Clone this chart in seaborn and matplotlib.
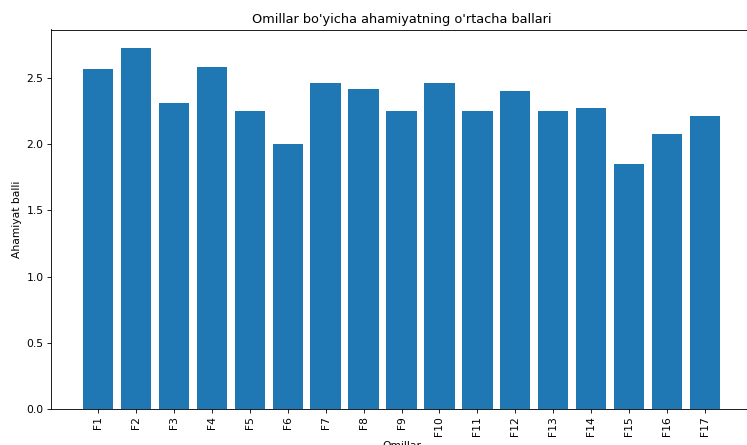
import matplotlib
matplotlib.use("Agg")
import matplotlib.pyplot as plt
import seaborn as sns
import pandas as pd

categories = ["F1", "F2", "F3", "F4", "F5", "F6", "F7", "F8", "F9", "F10",
              "F11", "F12", "F13", "F14", "F15", "F16", "F17"]
values = [2.57, 2.73, 2.31, 2.58, 2.25, 2.00, 2.46, 2.42, 2.25, 2.46,
          2.25, 2.40, 2.25, 2.27, 1.85, 2.08, 2.21]
title = "Omillar bo'yicha ahamiyatning o'rtacha ballari"
xlabel = "Omillar"
ylabel = "Ahamiyat balli"

df = pd.DataFrame({"cat": categories, "val": values})

W, H = 748, 445
DPI = 77
fig = plt.figure(figsize=(W / DPI, H / DPI), dpi=DPI)
left, right, top, bottom = 51, 752, 29.5, 409
ax = fig.add_axes([left / W, 1 - bottom / H, (right - left) / W, (bottom - top) / H])

sns.barplot(data=df, x="cat", y="val", color="#1f77b4", saturation=1,
            width=0.8, ax=ax, errorbar=None)

n = len(categories)
ax.set_xlim(-0.4 - 0.84, n - 1 + 0.4 + 0.84)
ax.set_ylim(0, max(values) * 1.05)
ax.set_title(title, fontsize=12)
ax.set_xlabel(xlabel, fontsize=10)
ax.set_ylabel(ylabel, fontsize=10)
ax.tick_params(axis="x", rotation=90)

fig.savefig("out.png", dpi=DPI)
